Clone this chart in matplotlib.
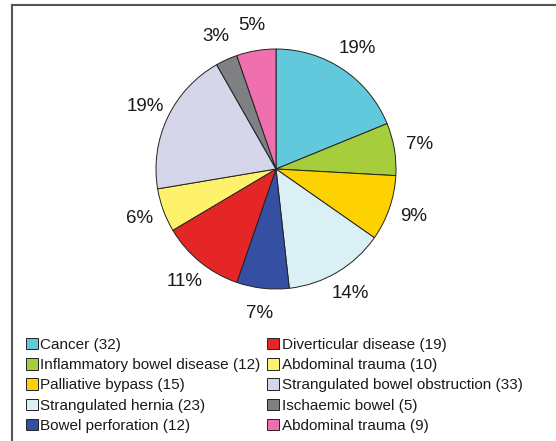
import matplotlib
matplotlib.use("Agg")
import matplotlib.pyplot as plt
from matplotlib.lines import Line2D

plt.rcParams['font.family'] = ['Liberation Sans', 'DejaVu Sans']

names = ["Cancer", "Inflammatory bowel disease", "Palliative bypass",
         "Strangulated hernia", "Bowel perforation", "Diverticular disease",
         "Abdominal trauma", "Strangulated bowel obstruction",
         "Ischaemic bowel", "Abdominal trauma"]
counts = [32, 12, 15, 23, 12, 19, 10, 33, 5, 9]
colors = ["#62C9DC", "#A5CD3C", "#FDD200", "#DAF0F5", "#3550A2",
          "#E52626", "#FEF26A", "#D6D6EA", "#7F8083", "#F06FAE"]

W, H = 556, 441
fig = plt.figure(figsize=(W / 100, H / 100), dpi=100)

# pie centre / radius in pixels
cx, cy, r = 276, 169, 120
half = 1.25 * r
ax = fig.add_axes([(cx - half) / W, (H - cy - half) / H, 2 * half / W, 2 * half / H])

wedges, texts, autotexts = ax.pie(
    counts, colors=colors, startangle=90, counterclock=False,
    autopct='%.0f%%', pctdistance=1.21,
    wedgeprops=dict(edgecolor='#222222', linewidth=0.7),
    textprops=dict(fontsize=13.5, color='#1a1a1a'))
ax.set_xlim(-1.25, 1.25)
ax.set_ylim(-1.25, 1.25)
ax.set_aspect('equal')

labels = [f"{n} ({c})" for n, c in zip(names, counts)]
leg = fig.legend(wedges, labels, ncol=2, loc='upper left',
                 bbox_to_anchor=(26 / W, 1 - 338 / H), frameon=False,
                 fontsize=11, handlelength=0.78, handleheight=0.78,
                 handletextpad=0.15, labelspacing=0.4, columnspacing=0.45,
                 borderpad=0, borderaxespad=0)
for t in leg.get_texts():
    t.set_color('#1a1a1a')

# frame lines (top and left)
fig.add_artist(Line2D([12 / W, 1], [1 - 5 / H, 1 - 5 / H], color='#555555', lw=1.5))
fig.add_artist(Line2D([12 / W, 12 / W], [0, 1 - 5 / H], color='#555555', lw=1.5))

fig.savefig("out.png", dpi=100)
